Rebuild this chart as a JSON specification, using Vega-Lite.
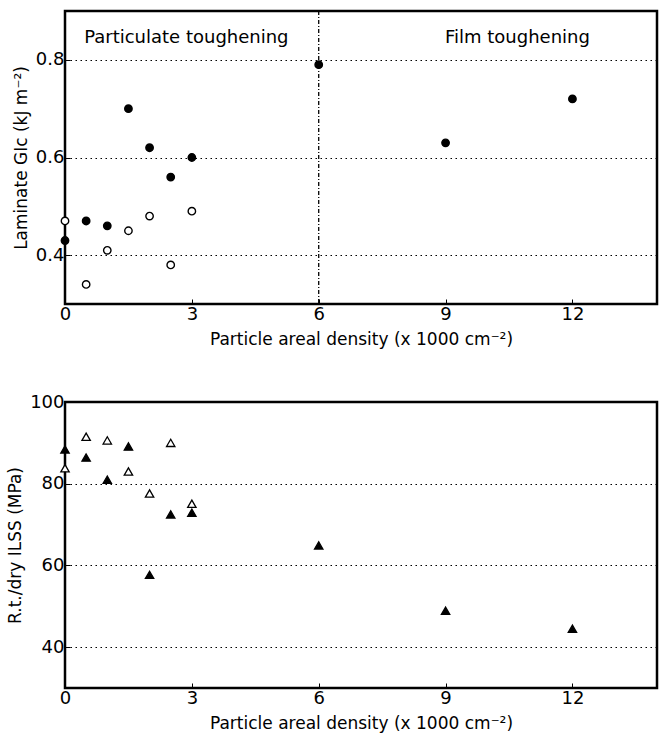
{
  "$schema": "https://vega.github.io/schema/vega-lite/v6.json",
  "padding": {"left": 5, "top": 9, "right": 2, "bottom": 0},
  "background": "white",
  "spacing": 42,
  "config": {
    "font": "DejaVu Sans",
    "view": {"stroke": "black", "strokeWidth": 2.5},
    "axis": {
      "domain": false,
      "labelFont": "DejaVu Sans",
      "labelFontSize": 18,
      "labelColor": "black",
      "labelFlush": false,
      "titleFont": "DejaVu Sans",
      "titleFontSize": 17,
      "titleFontWeight": "normal",
      "titleColor": "black",
      "tickColor": "black",
      "tickSize": -5,
      "labelPadding": 6,
      "gridColor": "black",
      "gridDash": [1.5, 3.5],
      "gridWidth": 1.2,
      "gridOpacity": 1
    }
  },
  "datasets": {
    "gic": [
      {"density": 0, "value": 0.43, "series": "filled"},
      {"density": 0.5, "value": 0.47, "series": "filled"},
      {"density": 1, "value": 0.46, "series": "filled"},
      {"density": 1.5, "value": 0.70, "series": "filled"},
      {"density": 2, "value": 0.62, "series": "filled"},
      {"density": 2.5, "value": 0.56, "series": "filled"},
      {"density": 3, "value": 0.60, "series": "filled"},
      {"density": 6, "value": 0.79, "series": "filled"},
      {"density": 9, "value": 0.63, "series": "filled"},
      {"density": 12, "value": 0.72, "series": "filled"},
      {"density": 0, "value": 0.47, "series": "open"},
      {"density": 0.5, "value": 0.34, "series": "open"},
      {"density": 1, "value": 0.41, "series": "open"},
      {"density": 1.5, "value": 0.45, "series": "open"},
      {"density": 2, "value": 0.48, "series": "open"},
      {"density": 2.5, "value": 0.38, "series": "open"},
      {"density": 3, "value": 0.49, "series": "open"}
    ],
    "ilss": [
      {"density": 0, "value": 88.4, "series": "filled"},
      {"density": 0.5, "value": 86.4, "series": "filled"},
      {"density": 1, "value": 81.0, "series": "filled"},
      {"density": 1.5, "value": 89.1, "series": "filled"},
      {"density": 2, "value": 57.7, "series": "filled"},
      {"density": 2.5, "value": 72.5, "series": "filled"},
      {"density": 3, "value": 72.9, "series": "filled"},
      {"density": 6, "value": 64.9, "series": "filled"},
      {"density": 9, "value": 48.9, "series": "filled"},
      {"density": 12, "value": 44.5, "series": "filled"},
      {"density": 0, "value": 83.8, "series": "open"},
      {"density": 0.5, "value": 91.5, "series": "open"},
      {"density": 1, "value": 90.6, "series": "open"},
      {"density": 1.5, "value": 83.0, "series": "open"},
      {"density": 2, "value": 77.6, "series": "open"},
      {"density": 2.5, "value": 90.0, "series": "open"},
      {"density": 3, "value": 75.1, "series": "open"}
    ],
    "divider": [{"density": 6}],
    "labels": [
      {"density": 2.87, "value": 0.845, "text": "Particulate toughening"},
      {"density": 10.7, "value": 0.845, "text": "Film toughening"}
    ]
  },
  "vconcat": [
    {
      "width": 592,
      "height": 293,
      "layer": [
        {
          "data": {"name": "divider"},
          "mark": {"type": "rule", "color": "black", "strokeWidth": 1.3, "strokeDash": [4, 2, 1, 2]},
          "encoding": {
            "x": {"field": "density", "type": "quantitative", "scale": {"domain": [0, 14]}}
          }
        },
        {
          "data": {"name": "gic"},
          "mark": {"type": "point", "shape": "circle", "size": 55, "stroke": "black", "strokeWidth": 1.4, "opacity": 1, "clip": false},
          "encoding": {
            "x": {
              "field": "density", "type": "quantitative",
              "scale": {"domain": [0, 14], "nice": false},
              "axis": {"values": [0, 3, 6, 9, 12], "grid": false, "titlePadding": 8,
                       "title": "Particle areal density (x 1000 cm⁻²)"}
            },
            "y": {
              "field": "value", "type": "quantitative",
              "scale": {"domain": [0.3, 0.9], "nice": false, "zero": false},
              "axis": {"values": [0.4, 0.6, 0.8], "format": ".1f", "grid": true, "titlePadding": 5,
                       "title": "Laminate GIc (kJ m⁻²)"}
            },
            "fill": {
              "field": "series", "type": "nominal",
              "scale": {"domain": ["filled", "open"], "range": ["black", "white"]},
              "legend": null
            }
          }
        },
        {
          "data": {"name": "labels"},
          "mark": {"type": "text", "fontSize": 18, "font": "DejaVu Sans", "color": "black"},
          "encoding": {
            "x": {"field": "density", "type": "quantitative"},
            "y": {"field": "value", "type": "quantitative"},
            "text": {"field": "text"}
          }
        }
      ]
    },
    {
      "width": 592,
      "height": 286,
      "data": {"name": "ilss"},
      "mark": {"type": "point", "shape": "triangle-up", "size": 70, "stroke": "black", "strokeWidth": 1.3, "opacity": 1, "clip": false},
      "encoding": {
        "x": {
          "field": "density", "type": "quantitative",
          "scale": {"domain": [0, 14], "nice": false},
          "axis": {"values": [0, 3, 6, 9, 12], "grid": false, "titlePadding": 8,
                   "title": "Particle areal density (x 1000 cm⁻²)"}
        },
        "y": {
          "field": "value", "type": "quantitative",
          "scale": {"domain": [30, 100], "nice": false, "zero": false},
          "axis": {"values": [40, 60, 80, 100], "grid": true, "titlePadding": 5,
                   "title": "R.t./dry ILSS (MPa)"}
        },
        "fill": {
          "field": "series", "type": "nominal",
          "scale": {"domain": ["filled", "open"], "range": ["black", "white"]},
          "legend": null
        }
      }
    }
  ]
}
